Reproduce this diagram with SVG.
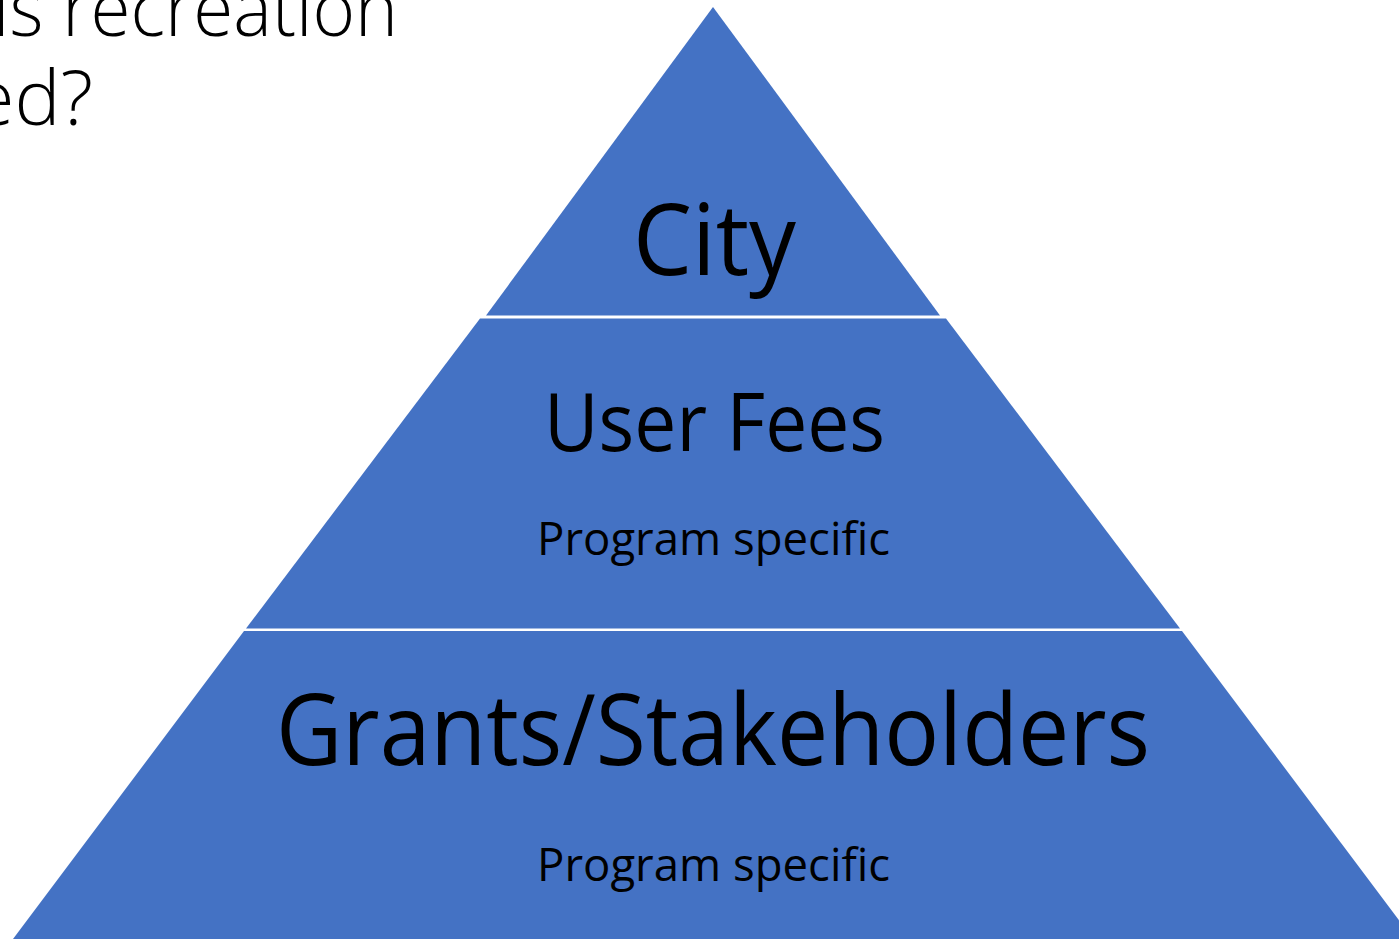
<svg xmlns="http://www.w3.org/2000/svg" width="1399" height="939" viewBox="0 0 1399 939">
<style>
.layer{fill:#4472C4}
.t{font-family:"Open Sans","Noto Sans","Liberation Sans",sans-serif;fill:#000}
.title{font-weight:300}
</style>
<rect width="1399" height="939" fill="#fff"/>
<g id="title">
<text class="t title" x="-7" y="36" font-size="75" textLength="405" lengthAdjust="spacingAndGlyphs">is recreation</text>
<text class="t title" x="-28" y="125" font-size="75" textLength="121" lengthAdjust="spacingAndGlyphs">ed?</text>
</g>
<g id="layer-city">
<polygon class="layer" points="713,7 940,315.5 486,315.5"/>
<text class="t" x="633" y="275" font-size="98" textLength="163" lengthAdjust="spacingAndGlyphs">City</text>
</g>
<g id="layer-userfees">
<polygon class="layer" points="480,318.5 946,318.5 1180,628.5 246,628.5"/>
<text class="t" x="544" y="451" font-size="81" textLength="341" lengthAdjust="spacingAndGlyphs">User Fees</text>
<text class="t" x="537" y="555" font-size="46" textLength="353" lengthAdjust="spacingAndGlyphs">Program specific</text>
</g>
<g id="layer-grants">
<polygon class="layer" points="244,631 1182,631 1413,939 13,939"/>
<text class="t" x="276" y="765" font-size="98" textLength="874" lengthAdjust="spacingAndGlyphs">Grants/Stakeholders</text>
<text class="t" x="537" y="881" font-size="46" textLength="353" lengthAdjust="spacingAndGlyphs">Program specific</text>
</g>
<g id="connectors"/>
</svg>
